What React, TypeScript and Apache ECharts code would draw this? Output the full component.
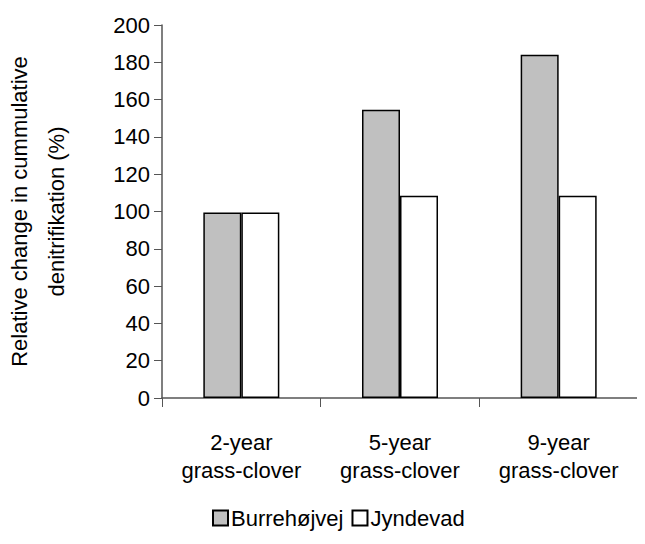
import React, { useEffect, useRef } from "react";
import * as echarts from "echarts";

const categories = ["2-year\ngrass-clover", "5-year\ngrass-clover", "9-year\ngrass-clover"];
const burrehojvej = [99.5, 154.5, 184];
const jyndevad = [99.5, 108.5, 108.5];
const seriesNames = ["Burrehøjvej", "Jyndevad"];

const font = "'Liberation Sans', Arial, sans-serif";

const App = () => {
  const chartRef = useRef<HTMLDivElement | null>(null);

  useEffect(() => {
    const chart = echarts.init(chartRef.current as HTMLDivElement, undefined, { renderer: "svg" });
    chart.setOption({
      animation: false,
      textStyle: { fontFamily: font },
      grid: { left: 154, right: 7, top: 17, bottom: 146, containLabel: false, outerBoundsMode: "none" },
      legend: {
        bottom: 10,
        left: 199,
        icon: "rect",
        itemWidth: 15,
        itemHeight: 15,
        itemGap: 8,
        data: seriesNames,
        textStyle: { fontSize: 22, color: "#000", fontFamily: font, padding: [0, 0, 0, -2] },
      },
      xAxis: {
        type: "category",
        data: categories,
        axisLine: { lineStyle: { color: "#555", width: 1.5 } },
        axisTick: { show: true, length: 9, lineStyle: { color: "#555" } },
        axisLabel: { fontSize: 22, color: "#000", margin: 30, lineHeight: 28 },
      },
      yAxis: {
        type: "value",
        min: 0,
        max: 200,
        interval: 20,
        name: "Relative change in cummulative\ndenitrifikation (%)",
        nameLocation: "middle",
        nameGap: 87,
        nameTextStyle: { fontSize: 22, color: "#000", lineHeight: 37 },
        splitLine: { show: false },
        axisLine: { show: true, lineStyle: { color: "#555", width: 1.5 } },
        axisTick: { show: true, length: 8, lineStyle: { color: "#555" } },
        axisLabel: { fontSize: 22, color: "#000", margin: 12 },
      },
      series: [
        {
          name: seriesNames[0],
          type: "bar",
          data: burrehojvej,
          barWidth: 38,
          barGap: "0%",
          itemStyle: { color: "#c0c0c0", borderColor: "#000", borderWidth: 1.5 },
        },
        {
          name: seriesNames[1],
          type: "bar",
          data: jyndevad,
          barWidth: 38,
          itemStyle: { color: "#fff", borderColor: "#000", borderWidth: 1.5 },
        },
      ],
    });
    return () => chart.dispose();
  }, []);

  return <div ref={chartRef} style={{ width: 637, height: 536 }} />;
};

export default App;
